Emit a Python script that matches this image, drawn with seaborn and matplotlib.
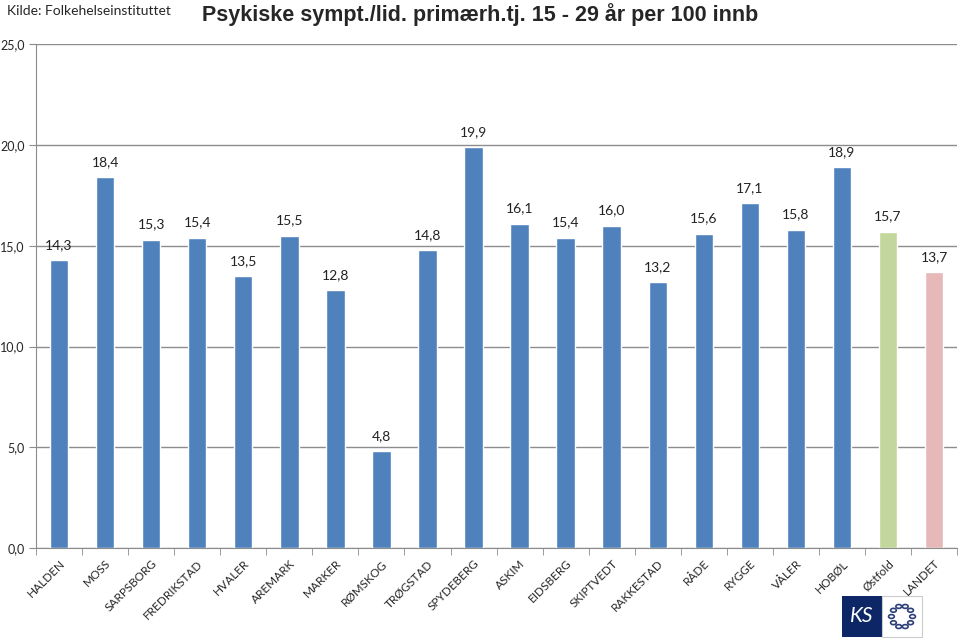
import matplotlib
matplotlib.use("Agg")
import matplotlib.pyplot as plt
import seaborn as sns
import pandas as pd
import numpy as np
from matplotlib.patches import Rectangle, Circle

kommuner = ['HALDEN', 'MOSS', 'SARPSBORG', 'FREDRIKSTAD', 'HVALER', 'AREMARK',
            'MARKER', 'RØMSKOG', 'TRØGSTAD', 'SPYDEBERG', 'ASKIM', 'EIDSBERG',
            'SKIPTVEDT', 'RAKKESTAD', 'RÅDE', 'RYGGE', 'VÅLER', 'HOBØL',
            'Østfold', 'LANDET']
verdier = [14.3, 18.4, 15.3, 15.4, 13.5, 15.5, 12.8, 4.8, 14.8, 19.9,
           16.1, 15.4, 16.0, 13.2, 15.6, 17.1, 15.8, 18.9, 15.7, 13.7]
y_ticks = [0, 5, 10, 15, 20, 25]

farger = ['#4F81BD'] * 18 + ['#C3D69B', '#E6B9B8']

df = pd.DataFrame({'kommune': kommuner, 'verdi': verdier})

sns.set_style("white")
plt.rcParams['font.family'] = ['Lato', 'DejaVu Sans']

fig = plt.figure(figsize=(9.6, 6.41), dpi=100)
ax = fig.add_axes([0.0375, 0.145, 0.9595, 0.786])

sns.barplot(data=df, x='kommune', y='verdi', hue='kommune', palette=farger,
            legend=False, width=0.4, saturation=1, ax=ax)

for i, v in enumerate(verdier):
    ax.text(i, v + 0.45, f"{v:.1f}".replace('.', ','), ha='center', va='bottom',
            fontsize=10, color='#222222')

ax.set_ylim(0, 25)
ax.set_xlim(-0.5, len(kommuner) - 0.5)
ax.set_yticks(y_ticks)
ax.set_yticklabels([f"{t:.1f}".replace('.', ',') for t in y_ticks], fontsize=9)
ax.tick_params(axis='y', length=5, color='#8c8c8c', left=True, pad=3)
ax.yaxis.grid(True, color='#8c8c8c', linewidth=1)
ax.set_axisbelow(True)
ax.set_xlabel('')
ax.set_ylabel('')

ax.set_xticks(range(len(kommuner)))
ax.set_xticklabels(kommuner, rotation=45, ha='right', rotation_mode='anchor', fontsize=8.5)
ax.tick_params(axis='x', length=0, pad=7)
ax.set_xticks(np.arange(-0.5, len(kommuner), 1), minor=True)
ax.tick_params(axis='x', which='minor', length=5, color='#8c8c8c', bottom=True)

for s in ['top', 'right']:
    ax.spines[s].set_visible(False)
ax.spines['left'].set_color('#8c8c8c')
ax.spines['bottom'].set_color('#8c8c8c')

fig.text(0.007, 0.992, 'Kilde: Folkehelseinstituttet', fontsize=10, va='top', ha='left')
fig.text(0.5, 0.996, 'Psykiske sympt./lid. primærh.tj. 15 - 29 år per 100 innb',
         family=['Liberation Sans', 'DejaVu Sans'], fontsize=15.5, fontweight='bold',
         va='top', ha='center')

# KS logo
lx, ly, lw, lh = 842 / 960, 4 / 641, 40 / 960, 41 / 641
fig.patches.append(Rectangle((lx, ly), lw, lh, transform=fig.transFigure,
                             facecolor='#0d2766', edgecolor='none'))
fig.patches.append(Rectangle((lx + lw, ly), lw, lh, transform=fig.transFigure,
                             facecolor='white', edgecolor='#cccccc', linewidth=0.8))
fig.text(lx + lw / 2, ly + lh / 2, 'KS', color='white', fontsize=15, style='italic',
         ha='center', va='center')
cx, cy = lx + 1.5 * lw, ly + lh / 2
for a in np.linspace(0, 2 * np.pi, 10, endpoint=False):
    fig.patches.append(Circle((cx + 0.011 * np.cos(a), cy + 0.0165 * np.sin(a)), 0.003,
                              transform=fig.transFigure, facecolor='none',
                              edgecolor='#2c3f7a', linewidth=1.2))

fig.savefig('out.png', dpi=100)
